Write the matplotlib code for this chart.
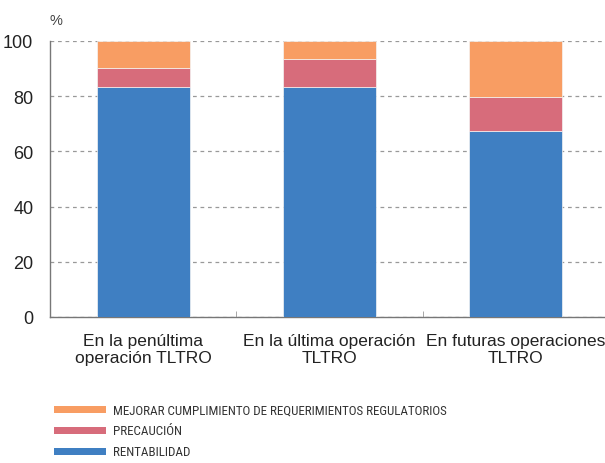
import matplotlib
matplotlib.use("Agg")
import matplotlib.pyplot as plt
from matplotlib.patches import Rectangle
from matplotlib import font_manager as fm
import numpy as np

categories = ["En la penúltima\noperación TLTRO", "En la última operación\nTLTRO", "En futuras operaciones\nTLTRO"]
rentabilidad = [83.2, 83.4, 67.3]
precaucion = [7.1, 10.0, 12.3]
mejorar = [9.7, 6.6, 20.4]
series_labels = ["MEJORAR CUMPLIMIENTO DE REQUERIMIENTOS REGULATORIOS", "PRECAUCIÓN", "RENTABILIDAD"]
yticks = [0, 20, 40, 60, 80, 100]

c_blue = "#3F7FC2"
c_red = "#D76C7B"
c_orange = "#F89D63"

names = {f.name for f in fm.fontManager.ttflist}
narrow = next((n for n in ["Roboto Condensed", "Archivo Narrow", "PT Sans Narrow"] if n in names), "DejaVu Sans")
plt.rcParams['font.family'] = ['Liberation Sans', 'DejaVu Sans']

fig = plt.figure(figsize=(6.05, 4.64), dpi=100)
W, H = 605, 464
ax = fig.add_axes([50 / W, 1 - 318 / H, (609 - 50) / W, (318 - 42) / H])

x = np.arange(len(categories))
bw = 0.5
ec = dict(edgecolor="#f4f4f4", linewidth=0.5)
ax.bar(x, rentabilidad, bw, color=c_blue, zorder=3, **ec)
b1 = np.array(rentabilidad)
ax.bar(x, precaucion, bw, bottom=b1, color=c_red, zorder=3, **ec)
b2 = b1 + np.array(precaucion)
ax.bar(x, mejorar, bw, bottom=b2, color=c_orange, zorder=3, **ec)

ax.set_xlim(-0.5, 2.5)
ax.set_ylim(0, 100)
ax.set_yticks(yticks)
ax.set_yticklabels([str(v) for v in yticks], fontsize=13, color="#222222")
ax.tick_params(axis="y", length=0, pad=12)
ax.yaxis.grid(True, linestyle=(0, (3, 3)), color="#999999", linewidth=0.9, zorder=0)
ax.set_axisbelow(True)

ax.set_xticks(x)
ax.set_xticklabels(categories, fontsize=12.5, color="#222222", linespacing=1.15)
ax.tick_params(axis="x", length=0, pad=11.5)
ax.set_xticks([0.5, 1.5], minor=True)
ax.tick_params(axis="x", which="minor", length=4, direction="in", color="#999999")

for s in ["top", "right"]:
    ax.spines[s].set_visible(False)
for s in ["left", "bottom"]:
    ax.spines[s].set_color("#777777")
    ax.spines[s].set_linewidth(1.0)

fig.text(50 / W, 1 - 21 / H, "%", fontsize=10.5, color="#444444", va="center", ha="left")

# legend
colors_leg = [c_orange, c_red, c_blue]
ys = [411, 432, 453]
for lab, col, yy in zip(series_labels, colors_leg, ys):
    fig.add_artist(Rectangle((54 / W, 1 - (yy + 3) / H), 52 / W, 7 / H,
                             transform=fig.transFigure, facecolor=col, edgecolor="none"))
    fig.text(113 / W, 1 - yy / H, lab, fontsize=9.4, color="#333333", va="center",
             ha="left", family=[narrow, 'DejaVu Sans'])

fig.savefig("out.png", dpi=100)
